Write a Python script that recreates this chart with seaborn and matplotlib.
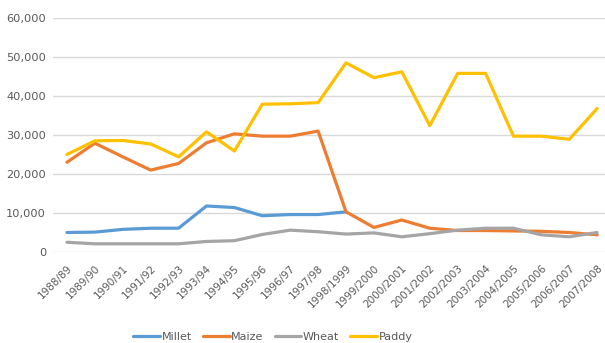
import numpy as np
import pandas as pd
import matplotlib
matplotlib.use("Agg")
import matplotlib.pyplot as plt
import seaborn as sns

seasons = [
    "1988/89", "1989/90", "1990/91", "1991/92", "1992/93", "1993/94", "1994/95",
    "1995/96", "1996/97", "1997/98", "1998/1999", "1999/2000", "2000/2001",
    "2001/2002", "2002/2003", "2003/2004", "2004/2005", "2005/2006",
    "2006/2007", "2007/2008",
]
millet = [5000, 5100, 5800, 6100, 6100, 11800, 11400, 9300, 9600, 9600, 10300,
          np.nan, np.nan, np.nan, np.nan, np.nan, np.nan, np.nan, np.nan, np.nan]
maize = [23000, 27900, 24400, 21000, 22700, 28000, 30300, 29700, 29700, 31000,
         10300, 6300, 8200, 6100, 5500, 5500, 5400, 5300, 5000, 4400]
wheat = [2500, 2100, 2100, 2100, 2100, 2700, 2900, 4500, 5600, 5200,
         4600, 4900, 3900, 4700, 5600, 6100, 6100, 4400, 3900, 5000]
paddy = [25000, 28500, 28600, 27700, 24400, 30800, 25900, 37900, 38000, 38300,
         48500, 44700, 46200, 32400, 45800, 45800, 29700, 29700, 28900, 36800]

crops = ["Millet", "Maize", "Wheat", "Paddy"]
colors = ["#5B9BD5", "#ED7D31", "#A5A5A5", "#FFC000"]

df = pd.DataFrame({"season": seasons, "Millet": millet, "Maize": maize,
                   "Wheat": wheat, "Paddy": paddy})
df["pos"] = range(len(seasons))
long = df.melt(id_vars=["season", "pos"], value_vars=crops,
               var_name="crop", value_name="value")

sns.set_style("white")
fig = plt.figure(figsize=(6.05, 3.43), dpi=100)
ax = fig.add_axes([53 / 605, 1 - 252 / 343, 552 / 605, 234 / 343])

sns.lineplot(data=long, x="pos", y="value", hue="crop", hue_order=crops,
             palette=colors, linewidth=2.3, ax=ax, legend=True)

ax.set_xlim(-0.5, 19.28)
ax.set_ylim(0, 60000)
ax.set_yticks(range(0, 60001, 10000))
ax.set_yticklabels([f"{v:,}" for v in range(0, 60001, 10000)])
ax.set_xticks(range(len(seasons)))
ax.set_xticklabels(seasons, rotation=45, ha="right", rotation_mode="anchor")
ax.tick_params(axis="both", length=0, colors="#595959")
ax.tick_params(axis="y", labelsize=8.2, pad=5)
ax.tick_params(axis="x", labelsize=7.5, pad=8)
ax.yaxis.grid(True, color="#D9D9D9", linewidth=1)
ax.set_axisbelow(True)
for s in ax.spines.values():
    s.set_visible(False)
ax.set_xlabel("")
ax.set_ylabel("")

handles, labels = ax.get_legend_handles_labels()
ax.legend(handles, labels, loc="center", bbox_to_anchor=(273 / 605, 1 - 337 / 343),
          bbox_transform=fig.transFigure, ncol=4, frameon=False, fontsize=8,
          handlelength=2.4, handletextpad=0.15, columnspacing=1.0,
          labelcolor="#595959", borderpad=0.2)

fig.savefig("out.png", dpi=100)
